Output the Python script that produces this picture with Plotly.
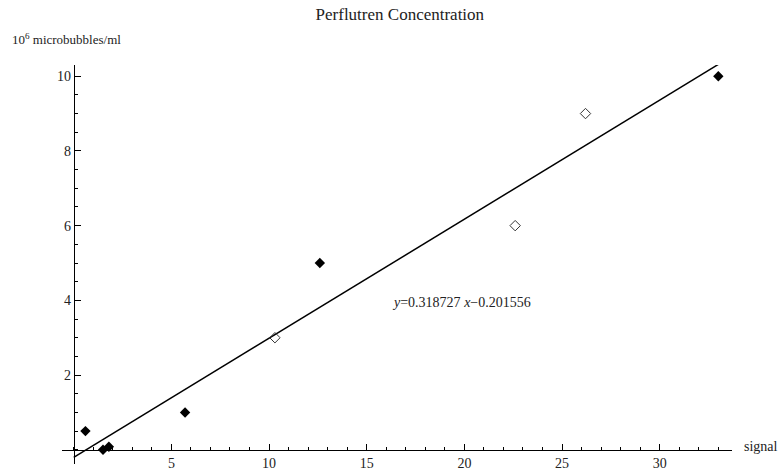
import plotly.graph_objects as go

# data
filled_x = [0.6, 1.5, 1.8, 5.7, 12.6, 33.0]
filled_y = [0.5, 0.0, 0.08, 1.0, 5.0, 10.0]
open_x = [10.3, 22.6, 26.2]
open_y = [3.0, 6.0, 9.0]
slope = 0.318727
intercept = -0.201556
fit_x = [0.0, 33.0]

x_ticks = [5, 10, 15, 20, 25, 30]
y_ticks = [2, 4, 6, 8, 10]

xr = [-0.6, 33.7]
yr = [-0.38, 10.3]

fit_y = [slope * v + intercept for v in fit_x]
ypos0 = (0 - yr[0]) / (yr[1] - yr[0])
xpos0 = (0 - xr[0]) / (xr[1] - xr[0])

fig = go.Figure()
fig.add_trace(go.Scatter(x=fit_x, y=fit_y, mode="lines",
                         line=dict(color="black", width=1.5), showlegend=False))
fig.add_trace(go.Scatter(x=filled_x, y=filled_y, mode="markers",
                         marker=dict(symbol="diamond", size=8, color="black"),
                         cliponaxis=False, showlegend=False))
fig.add_trace(go.Scatter(x=open_x, y=open_y, mode="markers",
                         marker=dict(symbol="diamond-open", size=8, color="#333333",
                                     line=dict(width=1)),
                         cliponaxis=False, showlegend=False))

fig.add_annotation(x=19.85, y=3.93, xref="x", yref="y",
                   text="<i>y</i>=0.318727 <i>x</i>\u22120.201556",
                   showarrow=False, font=dict(size=14, color="#222222"))
fig.add_annotation(x=0, y=1.0, xref="paper", yref="paper", yanchor="bottom",
                   xanchor="left", xshift=-52, yshift=16,
                   text="10<sup>6</sup> microbubbles/ml", showarrow=False,
                   font=dict(size=13, color="#222222"))
fig.add_annotation(x=1.0, y=ypos0, xref="paper", yref="paper",
                   xanchor="left", xshift=10, yshift=3, yanchor="middle",
                   text="signal", showarrow=False, font=dict(size=14, color="#222222"))

fig.update_layout(
    width=784, height=473,
    margin=dict(l=62, r=52, t=65, b=2),
    paper_bgcolor="white", plot_bgcolor="white",
    font=dict(family="Liberation Serif, Times New Roman, serif", size=14, color="#222222"),
    title=dict(text="Perflutren Concentration", x=0.51, xanchor="center", y=0.982,
               yanchor="top", font=dict(size=17, color="#222222")),
    xaxis=dict(range=xr, showgrid=False, zeroline=False, showline=True,
               linecolor="black", linewidth=1,
               anchor="free", position=ypos0,
               ticks="inside", ticklen=6, tickcolor="black", tickwidth=1,
               tickvals=x_ticks, ticktext=[str(v) for v in x_ticks],
               tickfont=dict(size=14),
               minor=dict(ticks="inside", ticklen=3, dtick=1, tick0=0, tickcolor="black",
                          showgrid=False)),
    yaxis=dict(range=yr, showgrid=False, zeroline=False, showline=True,
               linecolor="black", linewidth=1,
               anchor="free", position=xpos0,
               ticks="inside", ticklen=6, tickcolor="black", tickwidth=1,
               tickvals=y_ticks, ticktext=[str(v) for v in y_ticks],
               tickfont=dict(size=14),
               minor=dict(ticks="inside", ticklen=3, dtick=0.5, tick0=0, tickcolor="black",
                          showgrid=False)),
)

fig.write_html("out.html")
